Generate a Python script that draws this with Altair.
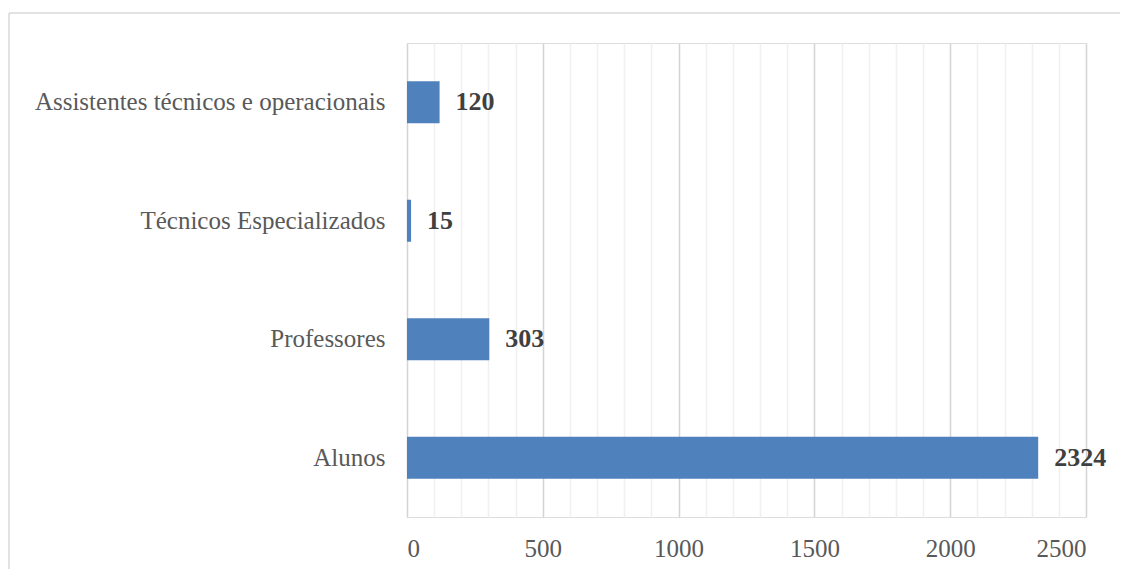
import altair as alt
import pandas as pd

categories = ["Assistentes técnicos e operacionais", "Técnicos Especializados", "Professores", "Alunos"]
values = [120, 15, 303, 2324]
tick_values = list(range(0, 2501, 100))

df = pd.DataFrame({"cat": categories, "val": values})
FONT = "Liberation Serif"

x = alt.X("val:Q", scale=alt.Scale(domain=[0, 2500], nice=False),
          axis=alt.Axis(values=tick_values, title=None, domain=False, ticks=False,
                        format="d", labelOverlap=False,
                        labelExpr="datum.value % 500 === 0 ? datum.label : ''",
                        labelFont=FONT, labelFontSize=25, labelColor="#595959",
                        labelPadding=19, grid=True, gridWidth=1.5,
                        gridColor=alt.condition("datum.value % 500 === 0",
                                                alt.value("#d4d4d4"), alt.value("#f0f0f0"))))
y = alt.Y("cat:N", sort=None, scale=alt.Scale(paddingInner=0.645, paddingOuter=0.3225),
          axis=alt.Axis(title=None, domain=False, ticks=False, labelFont=FONT,
                        labelFontSize=25, labelColor="#595959", labelPadding=22,
                        labelLimit=600))

bars = alt.Chart(df).mark_bar(color="#4f81bd").encode(x=x, y=y)
labels = alt.Chart(df).mark_text(align="left", baseline="middle", dx=16, font=FONT,
                                 fontSize=26, fontWeight="bold", color="#404040").encode(
    x=x, y=y, text="val:Q")

border = pd.DataFrame({"k": [0]})
left_rule = alt.Chart(border).mark_rule(color="#d9d9d9", strokeWidth=1.5).encode(
    x=alt.value(-398), y=alt.value(-30), y2=alt.value(560))
top_rule = alt.Chart(border).mark_rule(color="#d9d9d9", strokeWidth=1.5).encode(
    x=alt.value(-398), x2=alt.value(740), y=alt.value(-30))

chart = alt.layer(bars, labels, left_rule, top_rule).properties(
    width=679, height=474,
    autosize=alt.AutoSizeParams(type="none"),
    padding={"left": 399, "top": 35, "right": 34, "bottom": 52},
).configure_view(stroke=None).configure(background="white")

chart.save("out.html", embed_options={"renderer": "svg", "actions": False})
